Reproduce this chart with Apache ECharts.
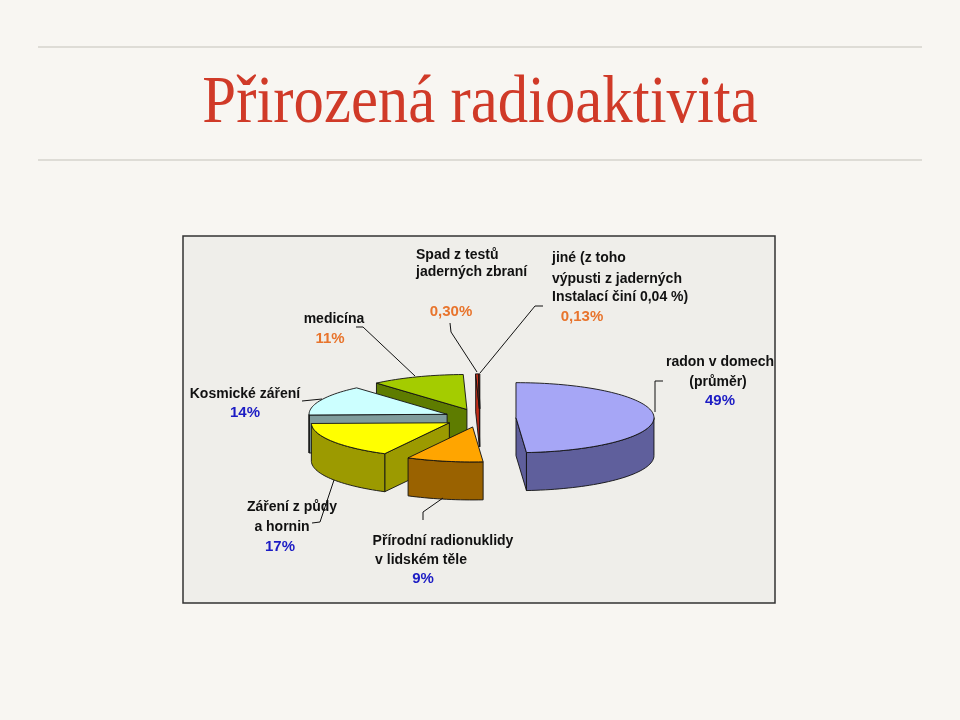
<!DOCTYPE html>
<html>
<head>
<meta charset="utf-8">
<script src="https://cdn.jsdelivr.net/npm/echarts@6/dist/echarts.min.js"></script>
<style>
  html, body { margin: 0; padding: 0; background: #f8f6f2; }
  #main { width: 960px; height: 720px; }
</style>
</head>
<body>
<div id="main"></div>
<script>
// hodnoty grafu (procenta)
var names = ['radon v domech (průměr)', 'Přírodní radionuklidy v lidském těle', 'Záření z půdy a hornin', 'Kosmické záření', 'medicína', 'Spad z testů jaderných zbraní', 'jiné']
var values = [49, 9, 17, 14, 11, 0.30, 0.13]
var percentLabels = ['49%', '9%', '17%', '14%', '11%', '0,30%', '0,13%']

// barvy horní plochy a boku výseče
var topColors = ['#a6a6f6', '#ffa500', '#ffff00', '#ccffff', '#a4cc00', '#e0381e', '#d83420']
var sideColors = ['#5f5f9c', '#9a6200', '#9c9a00', '#7f9c9c', '#5e7c00', '#c02c18', '#b82818']

// geometrie "3D" koláče
var CX = 480, CY = 418, RX = 138, RY = 35, H = 38, EXPLODE = 36

var total = values.reduce(function (a, b) { return a + b }, 0)
var starts = [], ends = []
var acc = 0
values.forEach(function (v) {
  starts.push(acc / total * 360)
  acc += v
  ends.push(acc / total * 360)
})

function apexOf (i) {
  var mid = (starts[i] + ends[i]) / 2 * Math.PI / 180
  return [CX + EXPLODE * Math.sin(mid), CY - EXPLODE * RY / RX * Math.cos(mid)]
}
// pořadí kreslení: zadní výseče první
var order = values.map(function (v, i) { return i }).sort(function (a, b) { return apexOf(a)[1] - apexOf(b)[1] })
var rank = []
order.forEach(function (idx, r) { rank[idx] = r })

function pt (ax, ay, a, dy) {
  var r = a * Math.PI / 180
  return [ax + RX * Math.sin(r), ay - RY * Math.cos(r) + (dy || 0)]
}

function renderSlice (params, api) {
  var i = params.dataIndex
  var a1 = starts[i], a2 = ends[i]
  var ap = apexOf(i), ax = ap[0], ay = ap[1]
  var base = rank[i] * 10
  var children = []
  var style = function (fill) { return { fill: fill, stroke: '#111', lineWidth: 0.9 } }

  function radial (a) {
    var p = pt(ax, ay, a)
    return [[ax, ay], p, [p[0], p[1] + H], [ax, ay + H]]
  }
  // radiální stěny, jen ty otočené k divákovi
  if (Math.sin(a1 * Math.PI / 180) < -1e-6) {
    children.push({ type: 'polygon', z2: base + 1, shape: { points: radial(a1) }, style: style(sideColors[i]) })
  }
  if (Math.sin(a2 * Math.PI / 180) > 1e-6) {
    children.push({ type: 'polygon', z2: base + 1, shape: { points: radial(a2) }, style: style(sideColors[i]) })
  }
  // vnější plášť
  var s = Math.max(a1, 90), e = Math.min(a2, 270)
  if (e > s) {
    var wall = [], back = []
    var nw = Math.max(2, Math.ceil((e - s) / 2))
    for (var k = 0; k <= nw; k++) {
      var a = s + (e - s) * k / nw
      wall.push(pt(ax, ay, a))
      back.unshift(pt(ax, ay, a, H))
    }
    children.push({ type: 'polygon', z2: base + 2, shape: { points: wall.concat(back) }, style: style(sideColors[i]) })
  }
  // horní plocha
  var top = [[ax, ay]]
  var n = Math.max(2, Math.ceil((a2 - a1) / 2))
  for (var j = 0; j <= n; j++) top.push(pt(ax, ay, a1 + (a2 - a1) * j / n))
  children.push({ type: 'polygon', z2: base + 3, shape: { points: top }, style: style(topColors[i]) })

  return { type: 'group', children: children }
}

function txt (x, y, text, fill, font, align) {
  return {
    type: 'text', x: x, y: y, z: 100,
    style: { text: text, fill: fill, font: font, align: align || 'center', textAlign: align || 'center', verticalAlign: 'middle', textVerticalAlign: 'middle' }
  }
}
function line (points) {
  return { type: 'polyline', z: 100, shape: { points: points }, style: { stroke: '#111', lineWidth: 1, fill: null } }
}

var LBL = 'bold 14px "Liberation Sans", Arial, sans-serif'
var PCT = 'bold 15px "Liberation Sans", Arial, sans-serif'
var ORANGE = '#e8742c', BLUE = '#1c1cc4'

var chart = echarts.init(document.getElementById('main'))
chart.setOption({
  backgroundColor: '#f8f6f2',
  animation: false,
  graphic: [
    { type: 'line', z: 0, shape: { x1: 38, y1: 47, x2: 922, y2: 47 }, style: { stroke: '#d6d3cd', lineWidth: 1.5 } },
    { type: 'line', z: 0, shape: { x1: 38, y1: 160, x2: 922, y2: 160 }, style: { stroke: '#d6d3cd', lineWidth: 1.5 } },
    {
      type: 'text', x: 480, y: 104, z: 0, scaleX: 0.894,
      style: { text: 'Přirozená radioaktivita', fill: '#d03a28', font: '68px "Liberation Serif", "DejaVu Serif", serif', align: 'center', textAlign: 'center', verticalAlign: 'middle', textVerticalAlign: 'middle' }
    },
    { type: 'rect', z: 0, shape: { x: 183, y: 236, width: 592, height: 367 }, style: { fill: '#efeeea', stroke: '#333', lineWidth: 1.5 } },

    txt(334, 319, 'medicína', '#111', LBL),
    txt(330, 339, percentLabels[4], ORANGE, PCT),
    txt(416, 255, 'Spad z testů', '#111', LBL, 'left'),
    txt(416, 272, 'jaderných zbraní', '#111', LBL, 'left'),
    txt(451, 312, percentLabels[5], ORANGE, PCT),
    txt(552, 258, 'jiné (z toho', '#111', LBL, 'left'),
    txt(552, 279, 'výpusti z jaderných', '#111', LBL, 'left'),
    txt(552, 297, 'Instalací činí 0,04 %)', '#111', LBL, 'left'),
    txt(582, 317, percentLabels[6], ORANGE, PCT),
    txt(720, 362, 'radon v domech', '#111', LBL),
    txt(718, 382, '(průměr)', '#111', LBL),
    txt(720, 401, percentLabels[0], BLUE, PCT),
    txt(245, 394, 'Kosmické záření', '#111', LBL),
    txt(245, 413, percentLabels[3], BLUE, PCT),
    txt(292, 507, 'Záření z půdy', '#111', LBL),
    txt(282, 527, 'a hornin', '#111', LBL),
    txt(280, 547, percentLabels[2], BLUE, PCT),
    txt(443, 541, 'Přírodní radionuklidy', '#111', LBL),
    txt(421, 560, 'v lidském těle', '#111', LBL),
    txt(423, 579, percentLabels[1], BLUE, PCT),

    line([[356, 327], [363, 327], [415, 376]]),
    line([[450, 323], [451, 332], [477, 372]]),
    line([[543, 306], [535, 306], [480, 373]]),
    line([[663, 381], [655, 381], [655, 412]]),
    line([[302, 401], [322, 399]]),
    line([[312, 523], [320, 522], [334, 480]]),
    line([[423, 520], [423, 512], [443, 498]])
  ],
  series: [{
    type: 'custom',
    coordinateSystem: 'none',
    z: 2,
    data: values.map(function (v, i) { return { name: names[i], value: [v, i] } }),
    renderItem: renderSlice
  }]
})
</script>
</body>
</html>
